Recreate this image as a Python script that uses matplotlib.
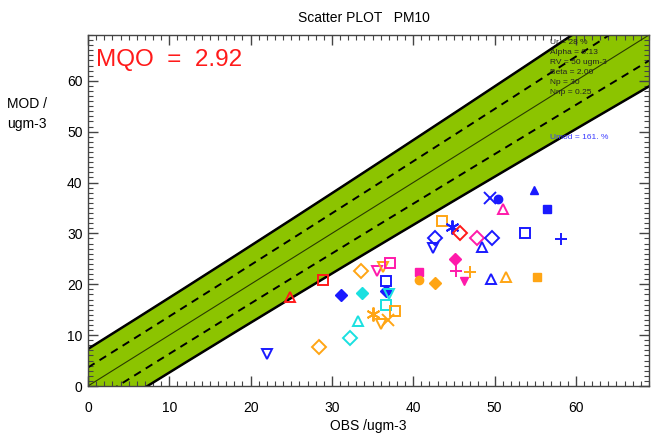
import numpy as np
import matplotlib
matplotlib.use("Agg")
import matplotlib.pyplot as plt
from matplotlib.ticker import MultipleLocator

plt.rcParams['font.family'] = ['Liberation Sans', 'DejaVu Sans']

# uncertainty parameters (shown in the legend box)
ur = 0.28
alpha = 0.13
rv = 50.0
beta = 2.0
np_ = 30
nnp = 0.25
mqo = 2.92
umod = 161.

# observed / modelled values per station
obs = [24.9, 28.9, 31.1, 33.6, 33.7, 35.6, 36.3, 37.2, 36.7, 36.7,
       37.0, 36.6, 37.7, 35.0, 33.2, 36.0, 36.9, 32.2, 28.4, 22.0,
       40.7, 40.7, 42.4, 49.4, 50.4, 54.9, 51.1, 56.5, 43.5, 44.8,
       45.8, 42.7, 47.9, 49.7, 48.5, 53.7, 58.2, 45.1, 45.3, 47.0,
       46.3, 42.7, 49.6, 51.4, 55.2]
mod = [17.5, 20.9, 17.8, 22.7, 18.2, 22.7, 23.4, 24.2, 20.6, 18.7,
       18.0, 15.9, 14.8, 14.1, 12.8, 12.1, 12.9, 9.5, 7.7, 6.2,
       22.5, 20.8, 27.2, 37.0, 36.7, 38.6, 34.7, 34.7, 32.4, 31.2,
       30.1, 29.1, 29.0, 29.0, 27.3, 30.1, 28.8, 25.0, 22.7, 22.4,
       20.6, 20.3, 21.0, 21.4, 21.4]
markers = ['^', 's', 'D', 'D', 'D', 'v', 'v', 's', 's', 'D',
           'v', 's', 's', '*', '^', 'v', 'x', 'D', 'D', 'v',
           's', 'o', 'v', 'x', 'o', '^', '^', 's', 's', '*',
           'D', 'D', 'D', 'D', '^', 's', '+', 'D', '+', '+',
           'v', 'D', '^', '^', 's']
colors = ['red', 'red', 'blue', 'orange', 'cyan', 'magenta', 'orange', 'magenta', 'blue', 'blue',
          'cyan', 'cyan', 'orange', 'orange', 'cyan', 'orange', 'orange', 'cyan', 'orange', 'blue',
          'magenta', 'orange', 'blue', 'blue', 'blue', 'blue', 'magenta', 'blue', 'orange', 'blue',
          'red', 'blue', 'magenta', 'blue', 'blue', 'blue', 'blue', 'magenta', 'magenta', 'orange',
          'magenta', 'orange', 'blue', 'orange', 'orange']
filled = [0, 0, 1, 0, 1, 0, 0, 0, 0, 1,
          0, 0, 0, 1, 0, 0, 1, 0, 0, 0,
          1, 1, 0, 1, 1, 1, 0, 1, 0, 1,
          0, 0, 0, 0, 0, 0, 1, 1, 1, 1,
          1, 1, 0, 0, 1]

col_map = {'red': '#ff1a1a', 'blue': '#1a1aff', 'orange': '#ffa514',
           'magenta': '#ff1aaa', 'cyan': '#1ae0e0'}

fig = plt.figure(figsize=(6.51, 4.38), dpi=100)
ax = fig.add_axes([88 / 651, 52 / 438, 561 / 651, 351 / 438])

xmax = 69
ymax = 69

# MQO band
o = np.linspace(0, xmax, 300)
u = ur * np.sqrt((1 - alpha ** 2) * o ** 2 / np_ + alpha ** 2 * rv ** 2 / nnp)
ax.fill_between(o, o - beta * u, o + beta * u, color='#8cc400', zorder=1)
ax.plot(o, o + beta * u, color='black', lw=1.8, zorder=2)
ax.plot(o, o - beta * u, color='black', lw=1.8, zorder=2)
ax.plot(o, o + u, color='black', lw=1.4, ls=(0, (4, 3)), zorder=2)
ax.plot(o, o - u, color='black', lw=1.4, ls=(0, (4, 3)), zorder=2)
ax.plot(o, o, color='#2a3a00', lw=0.8, zorder=2)

for x, y, m, c, f in zip(obs, mod, markers, colors, filled):
    cc = col_map[c]
    if m == '*':
        ax.plot(x, y, marker=(6, 2, 0), color=cc, ms=10, mew=1.4, ls='none', zorder=3)
    elif m in ('x', '+'):
        ax.plot(x, y, marker=m, color=cc, ms=9, mew=1.4, ls='none', zorder=3)
    elif f:
        ax.plot(x, y, marker=m, color=cc, ms=6, ls='none', zorder=3)
    else:
        ax.plot(x, y, marker=m, mfc='none', mec=cc, ms=7.5, mew=1.4, ls='none', zorder=3)

ax.set_xlim(0, xmax)
ax.set_ylim(0, ymax)
ax.xaxis.set_major_locator(MultipleLocator(10))
ax.yaxis.set_major_locator(MultipleLocator(10))
ax.xaxis.set_minor_locator(MultipleLocator(1))
ax.yaxis.set_minor_locator(MultipleLocator(1))
ax.tick_params(which='both', direction='in', top=True, right=True, labelsize=10, color='#444444')
ax.tick_params(which='major', length=7, width=1)
ax.tick_params(which='minor', length=3.5, width=0.8)
ax.tick_params(axis='x', pad=11)
ax.tick_params(axis='y', pad=4)
for s in ax.spines.values():
    s.set_linewidth(1.0)
    s.set_color('#444444')

ax.text(0.014, 0.96, f'MQO  =  {mqo:.2f}', transform=ax.transAxes, color='#ff1a1a',
        fontsize=17.5, ha='left', va='top')

info = [f'Ur = {ur * 100:.0f} %', f'Alpha = {alpha:.2f}', f'RV = {rv:.0f} ugm-3',
        f'Beta = {beta:.2f}', f'Np = {np_}', f'Nnp = {nnp:.2f}']
for i, line in enumerate(info):
    fig.text(550 / 651, 1 - (43 + 10 * i) / 438, line, fontsize=6, color='#222222',
             ha='left', va='center')
fig.text(550 / 651, 1 - 137 / 438, f'Umod = {umod:.0f}. %', fontsize=6, color='#3a3aff',
         ha='left', va='center')

fig.text(364 / 651, 1 - 18 / 438, 'Scatter PLOT   PM10', fontsize=10, ha='center', va='center')
fig.text(368 / 651, 1 - 426 / 438, 'OBS /ugm-3', fontsize=10, ha='center', va='center')
fig.text(7 / 651, 1 - 114 / 438, 'MOD /\nugm-3', fontsize=10, ha='left', va='center',
         linespacing=1.5)

fig.savefig('out.png', dpi=100)
